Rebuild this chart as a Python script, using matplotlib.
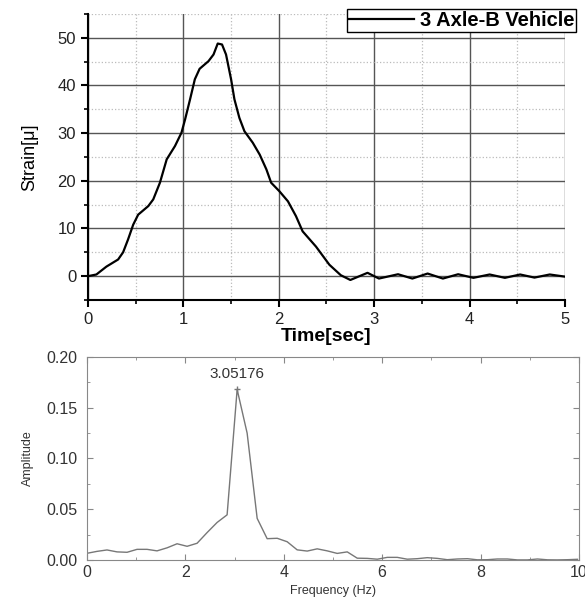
import numpy as np
import matplotlib.pyplot as plt
from matplotlib.ticker import MultipleLocator

plt.rcParams['font.family'] = ['Liberation Sans', 'DejaVu Sans']

# 应变时程
t = [0, 0.088, 0.193, 0.316, 0.368, 0.42, 0.474, 0.526, 0.632, 0.684,
     0.754, 0.825, 0.912, 0.98, 1.018, 1.07, 1.12, 1.17, 1.263, 1.316,
     1.36, 1.405, 1.447, 1.50, 1.535, 1.587, 1.64, 1.727, 1.80, 1.87,
     1.92, 2.007, 2.096, 2.18, 2.25, 2.39, 2.53, 2.65, 2.75, 2.93,
     3.05, 3.25, 3.40, 3.56, 3.72, 3.88, 4.04, 4.21, 4.37, 4.53,
     4.68, 4.84, 5.0]
strain = [0, 0.35, 2.0, 3.5, 5.0, 7.7, 10.8, 12.9, 14.7, 16.1,
          19.6, 24.5, 27.3, 30.1, 32.9, 37.1, 41.3, 43.5, 45.1, 46.5,
          48.8, 48.6, 46.5, 41.3, 37.1, 33.2, 30.4, 28.0, 25.5, 22.4,
          19.6, 17.8, 15.7, 12.6, 9.4, 6.2, 2.4, 0.2, -0.8, 0.7,
          -0.5, 0.4, -0.5, 0.55, -0.5, 0.4, -0.35, 0.35, -0.35, 0.35,
          -0.3, 0.35, -0.1]

# 频谱
freq = [0.000, 0.203, 0.407, 0.610, 0.814, 1.017, 1.221, 1.424, 1.628, 1.831,
        2.035, 2.238, 2.441, 2.645, 2.848, 3.052, 3.255, 3.459, 3.662, 3.866,
        4.069, 4.272, 4.476, 4.679, 4.883, 5.086, 5.290, 5.493, 5.697, 5.900,
        6.104, 6.307, 6.510, 6.714, 6.917, 7.121, 7.324, 7.528, 7.731, 7.935,
        8.138, 8.341, 8.545, 8.748, 8.952, 9.155, 9.359, 9.562, 9.766, 9.969]
amp = [0.0066, 0.0085, 0.0099, 0.0080, 0.0076, 0.0105, 0.0105, 0.0090, 0.0120, 0.0160,
       0.0135, 0.0165, 0.0270, 0.0370, 0.0445, 0.1680, 0.1250, 0.0410, 0.0210, 0.0214,
       0.0180, 0.0100, 0.0088, 0.0110, 0.0090, 0.0065, 0.0080, 0.0018, 0.0016, 0.0008,
       0.0026, 0.0026, 0.0008, 0.0013, 0.0023, 0.0016, 0.0003, 0.0010, 0.0013, 0.0002,
       0.0003, 0.0010, 0.0010, 0.0001, 0.0001, 0.0010, 0.0002, 0.0001, 0.0003, 0.0007]
peak_f, peak_a = 3.05176, 0.168

fig = plt.figure(figsize=(5.85, 6.03), dpi=100)

# 上图
ax1 = fig.add_axes([0.1504, 0.5025, 0.8154, 0.4743])
ax1.plot(t, strain, color='black', lw=1.6, label='3 Axle-B Vehicle',
         solid_joinstyle='round')
ax1.set_xlim(0, 5); ax1.set_ylim(-5, 55)
ax1.xaxis.set_major_locator(MultipleLocator(1))
ax1.xaxis.set_minor_locator(MultipleLocator(0.5))
ax1.yaxis.set_major_locator(MultipleLocator(10))
ax1.yaxis.set_minor_locator(MultipleLocator(5))
ax1.set_yticks(range(0, 51, 10))
ax1.grid(which='major', color='#555555', lw=1)
ax1.grid(which='minor', color='#bbbbbb', ls=':', lw=0.9)
ax1.set_axisbelow(True)
for s in ['top', 'right']:
    ax1.spines[s].set_visible(False)
ax1.spines['left'].set_linewidth(1.5)
ax1.spines['bottom'].set_linewidth(1.5)
ax1.tick_params(which='major', direction='out', length=5, width=1.5,
                labelsize=12, labelcolor='#222222')
ax1.tick_params(which='minor', direction='out', length=3, width=1.2)
ax1.set_xlabel('Time[sec]', fontsize=14, fontweight='bold', labelpad=1)
ax1.set_ylabel('Strain[μ]', fontsize=13, labelpad=14)
fig.legend(loc='upper right', bbox_to_anchor=(0.985, 0.985), fancybox=False,
           edgecolor='black', framealpha=1, prop={'weight': 'bold', 'size': 14.5},
           handlelength=3.2, borderpad=0.1, handletextpad=0.3, borderaxespad=0)

# 下图
ax2 = fig.add_axes([0.1487, 0.0713, 0.841, 0.3367])
ax2.plot(freq, amp, color='#777777', lw=1)
ax2.plot([peak_f], [peak_a], marker='+', color='#777777', ms=4)
ax2.annotate('3.05176', (peak_f, peak_a), xytext=(0, 6), textcoords='offset points',
             ha='center', va='bottom', fontsize=11, color='#333333')
ax2.set_xlim(0, 10); ax2.set_ylim(0, 0.2)
ax2.xaxis.set_major_locator(MultipleLocator(2))
ax2.xaxis.set_minor_locator(MultipleLocator(1))
ax2.yaxis.set_major_locator(MultipleLocator(0.05))
ax2.yaxis.set_minor_locator(MultipleLocator(0.025))
ax2.yaxis.set_major_formatter(plt.FormatStrFormatter('%.2f'))
for s in ax2.spines.values():
    s.set_color('#888888')
ax2.tick_params(which='both', direction='in', top=True, right=True,
                color='#888888', labelsize=11.5, labelcolor='#333333')
ax2.tick_params(which='major', length=4)
ax2.tick_params(which='minor', length=2)
ax2.tick_params(axis='y', pad=7)
ax2.set_xlabel('Frequency (Hz)', fontsize=9, color='#333333', labelpad=4)
ax2.set_ylabel('Amplitude', fontsize=9, color='#333333', labelpad=9)

plt.savefig('out.png', dpi=100)
